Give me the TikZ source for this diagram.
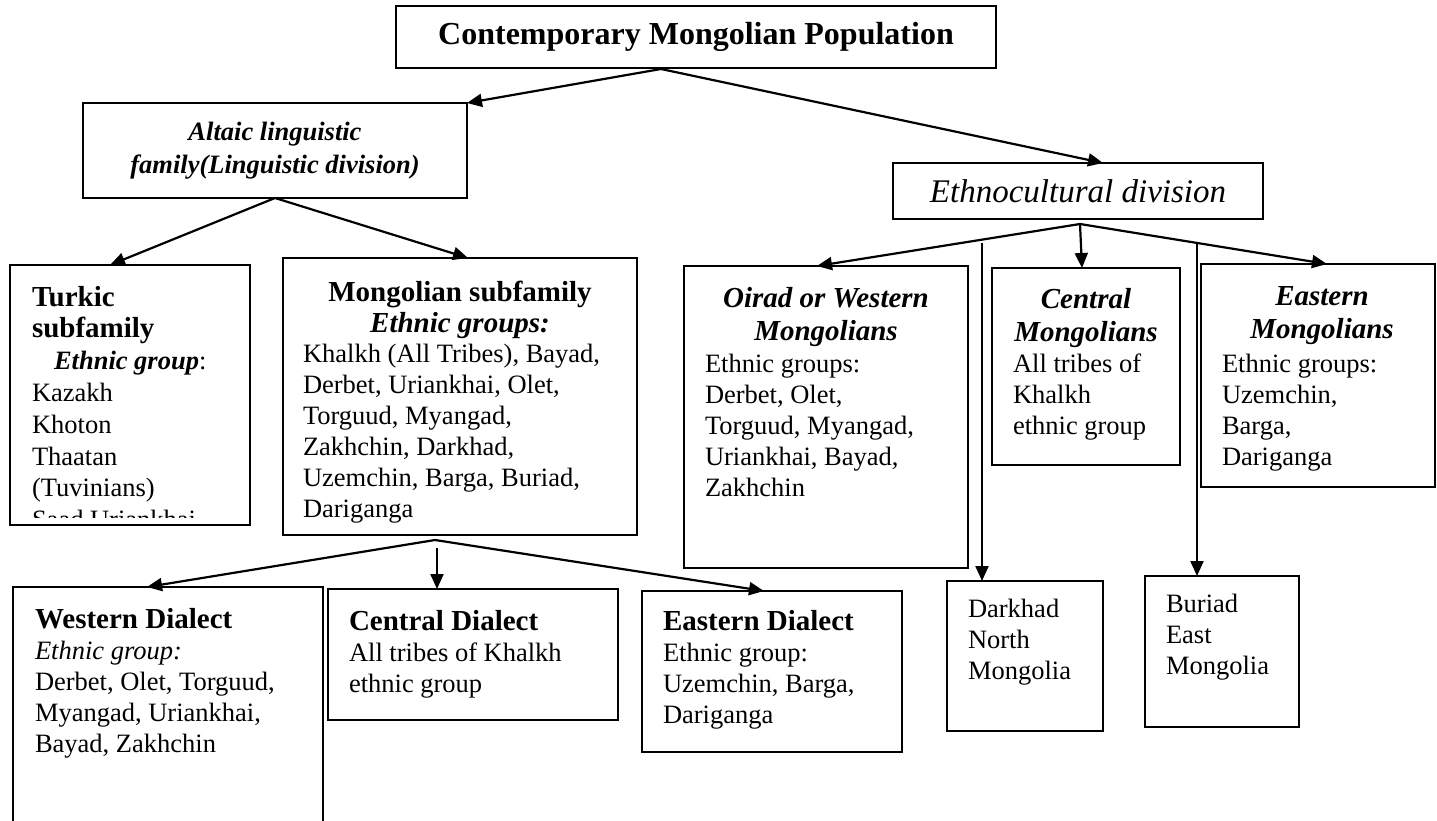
\documentclass[tikz,border=0pt]{standalone}
\usepackage{fontspec}
\setmainfont{Liberation Serif}
\usetikzlibrary{arrows.meta}
\newcommand\bodyfont{\fontsize{26.5}{31}\selectfont}
\newcommand\headfont{\fontsize{29}{31}\selectfont\bfseries}
\newcommand\headitfont{\fontsize{29}{33}\selectfont\bfseries\itshape}
\tikzset{
  box/.style={draw, line width=1.6pt, rectangle, inner sep=0pt, outer sep=0pt},
  conn/.style={line width=2.2pt, -{Triangle[length=15pt,width=13pt]}},
  txt/.style={inner sep=0pt, outer sep=0pt, anchor=base west, align=flush left, text width=#1, font=\bodyfont},
  ctxt/.style={inner sep=0pt, outer sep=0pt, anchor=base, align=flush center, text width=#1, font=\headitfont},
}
\begin{document}
\begin{tikzpicture}[x=1pt,y=-1pt]
\useasboundingbox (0,0) rectangle (1437,821);
\fill[white] (0,0) rectangle (1437,821);

% ---- boxes ----
\node[box, minimum width=600pt, minimum height=62pt, font=\fontsize{32}{36}\selectfont\bfseries] (top) at (696,37) {Contemporary Mongolian Population};
\node[box, minimum width=384pt, minimum height=95pt, align=flush center, font=\fontsize{26.5}{33}\selectfont\bfseries\itshape] (altaic) at (275,150.5) {Altaic linguistic\\family(Linguistic division)};
\node[box, minimum width=370pt, minimum height=56pt, font=\fontsize{33}{36}\selectfont\itshape] (ethno) at (1078,191) {Ethnocultural division};

\node[box, anchor=north west, minimum width=240pt, minimum height=260pt] (turkic) at (10,265) {};
\node[box, anchor=north west, minimum width=354pt, minimum height=277pt] (mong) at (283,258) {};
\node[box, anchor=north west, minimum width=284pt, minimum height=302pt] (oirad) at (684,266) {};
\node[box, anchor=north west, minimum width=188pt, minimum height=197pt] (cmong) at (992,268) {};
\node[box, anchor=north west, minimum width=234pt, minimum height=223pt] (emong) at (1201,264) {};

\node[box, anchor=north west, minimum width=310pt, minimum height=260pt] (wd) at (13,587) {};
\node[box, anchor=north west, minimum width=290pt, minimum height=131pt] (cd) at (328,589) {};
\node[box, anchor=north west, minimum width=260pt, minimum height=161pt] (ed) at (642,591) {};
\node[box, anchor=north west, minimum width=156pt, minimum height=150pt] (dk) at (947,581) {};
\node[box, anchor=north west, minimum width=154pt, minimum height=151pt] (br) at (1145,576) {};

% ---- texts ----
\begin{scope}
  \clip (10,265) rectangle (250,517);
  \node[txt=215pt, font=\fontsize{26.5}{31.8}\selectfont] (turkic-t) at (32,306)
    {{\headfont Turkic}\\{\headfont subfamily}\\\hspace*{22pt}{\bfseries\itshape Ethnic group}:\\Kazakh\\Khoton\\Thaatan\\(Tuvinians)\\Saad Uriankhai};
\end{scope}

\node[ctxt=354pt, font=\headfont] (mong-h) at (460,301) {Mongolian subfamily\\{\bfseries\itshape Ethnic groups:}};
\node[txt=330pt] (mong-t) at (303,362)
  {Khalkh (All Tribes), Bayad,\\Derbet, Uriankhai, Olet,\\Torguud, Myangad,\\Zakhchin, Darkhad,\\Uzemchin, Barga, Buriad,\\Dariganga};

\node[ctxt=284pt] (oirad-h) at (826,307) {Oirad or Western\\Mongolians};
\node[txt=255pt] (oirad-t) at (705,372)
  {Ethnic groups:\\Derbet, Olet,\\Torguud, Myangad,\\Uriankhai, Bayad,\\Zakhchin};

\node[ctxt=188pt] (cmong-h) at (1086,308) {Central\\Mongolians};
\node[txt=165pt] (cmong-t) at (1013,372) {All tribes of\\Khalkh\\ethnic group};

\node[ctxt=234pt] (emong-h) at (1322,305) {Eastern\\Mongolians};
\node[txt=205pt] (emong-t) at (1222,372) {Ethnic groups:\\Uzemchin,\\Barga,\\Dariganga};

\node[txt=285pt] (wd-t) at (35,628)
  {{\headfont Western Dialect}\\\textit{Ethnic group:}\\Derbet, Olet, Torguud,\\Myangad, Uriankhai,\\Bayad, Zakhchin};
\node[txt=265pt] (cd-t) at (349,630)
  {{\headfont Central Dialect}\\All tribes of Khalkh\\ethnic group};
\node[txt=235pt] (ed-t) at (663,630)
  {{\headfont Eastern Dialect}\\Ethnic group:\\Uzemchin, Barga,\\Dariganga};
\node[txt=130pt] (dk-t) at (968,617) {Darkhad\\North\\Mongolia};
\node[txt=130pt] (br-t) at (1166,612) {Buriad\\East\\Mongolia};

% ---- connectors ----
\coordinate (c0) at (661,69);
\draw[conn] (c0) -- (altaic.north east);
\draw[conn] (c0) -- ([xshift=25pt]ethno.north);

\draw[conn] (altaic.south) -- ([xshift=-20pt]turkic.north);
\draw[conn] (altaic.south) -- ([xshift=8pt]mong.north);

\coordinate (c2) at (1080,224);
\draw[conn] (c2) -- ([xshift=-9pt]oirad.north);
\draw[conn] (c2) -- ([xshift=-4pt]cmong.north);
\draw[conn] (c2) -- ([xshift=9pt]emong.north);

\coordinate (d0) at (982,243);
\draw[conn] (d0) -- (d0 |- dk.north);
\coordinate (b0) at (1197,243);
\draw[conn] (b0) -- (b0 |- br.north);

\coordinate (c3) at (435,540);
\draw[conn] (c3) -- ([xshift=-21pt]wd.north);
\draw[conn] (c3) -- ([xshift=-8pt]ed.north);
\coordinate (c4) at (437,548);
\draw[conn] (c4) -- (c4 |- cd.north);
\end{tikzpicture}
\end{document}
